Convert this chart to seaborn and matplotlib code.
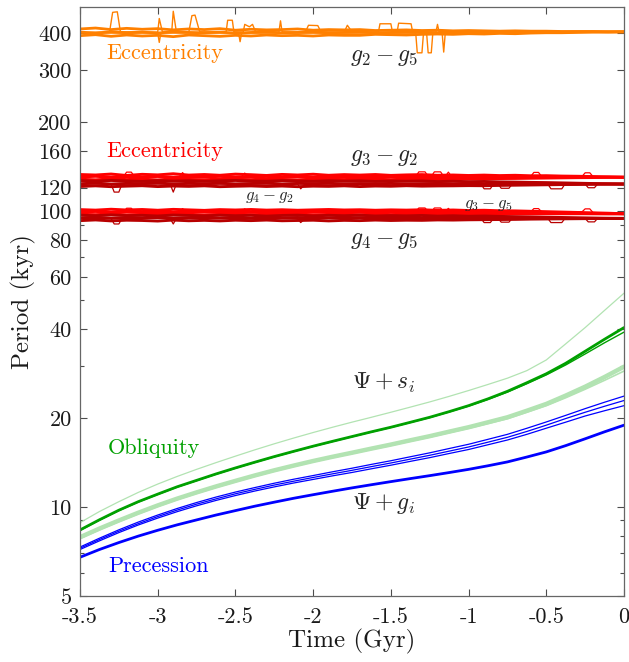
import matplotlib
matplotlib.use("Agg")
import matplotlib.pyplot as plt
import numpy as np
import seaborn as sns
from matplotlib.ticker import FixedLocator, FixedFormatter, NullLocator

# ---------------- data ----------------
# eccentricity bands: several runs per frequency, sampled every 0.1 Gyr
T_BAND = np.linspace(-3.5, 0, 36)

G2_G5 = [
    [413, 416, 411, 415, 412, 414, 410, 413, 411, 414, 409, 412, 410, 411, 413, 409, 411, 410,
     411, 408, 409, 410, 408, 409, 407, 408, 407, 406, 407, 406, 406, 405, 405, 405, 404, 404],
    [403, 400, 404, 401, 403, 400, 404, 402, 401, 403, 400, 402, 403, 401, 402, 403, 401, 402,
     403, 401, 402, 403, 402, 401, 403, 402, 403, 402, 403, 403, 404, 403, 404, 404, 404, 404],
    [392, 395, 390, 394, 391, 393, 389, 394, 392, 390, 393, 391, 394, 392, 393, 391, 394, 393,
     393, 396, 395, 394, 396, 397, 396, 398, 397, 399, 398, 400, 401, 401, 402, 403, 403, 404],
]
G3_G2 = [
    [133.0, 132.5, 133.5, 132.0, 133.2, 132.6, 133.8, 132.4, 133.0, 132.2, 133.4, 132.8, 132.0, 133.1, 132.5, 133.3, 132.2, 132.9,
     132.4, 133.0, 132.1, 132.6, 132.9, 132.2, 132.5, 132.0, 132.4, 131.9, 132.2, 131.7, 131.8, 131.4, 131.2, 130.9, 130.6, 130.2],
    [130.5, 131.2, 130.2, 130.9, 130.4, 131.0, 130.1, 130.8, 130.5, 131.1, 130.3, 130.7, 131.0, 130.4, 130.9, 130.2, 130.8, 130.5,
     130.9, 130.3, 130.7, 130.4, 130.8, 130.6, 130.3, 130.7, 130.5, 130.6, 130.4, 130.5, 130.6, 130.4, 130.5, 130.3, 130.3, 130.2],
    [128.2, 127.6, 128.5, 127.9, 128.3, 127.5, 128.6, 128.0, 127.7, 128.4, 128.1, 127.8, 128.5, 128.0, 127.6, 128.3, 128.1, 127.9,
     128.4, 128.2, 127.8, 128.3, 128.5, 128.0, 128.6, 128.4, 128.7, 128.9, 129.0, 129.2, 129.4, 129.6, 129.8, 129.9, 130.1, 130.2],
]
G4_G2 = [
    [126.8, 126.2, 127.0, 126.5, 126.0, 126.9, 126.3, 126.7, 126.1, 126.6, 127.0, 126.4, 126.2, 126.8, 126.5, 126.1, 126.7, 126.3,
     126.6, 126.0, 126.4, 126.2, 126.5, 125.9, 126.2, 125.8, 126.0, 125.6, 125.4, 125.1, 124.9, 124.6, 124.3, 124.0, 123.8, 123.5],
    [123.8, 124.4, 123.5, 124.1, 123.9, 124.5, 123.6, 124.2, 123.8, 124.3, 123.7, 124.0, 124.4, 123.6, 124.1, 123.9, 124.2, 123.7,
     124.0, 123.8, 124.1, 123.6, 123.9, 124.0, 123.7, 123.9, 123.6, 123.8, 123.7, 123.6, 123.7, 123.5, 123.6, 123.5, 123.5, 123.5],
    [121.2, 121.8, 121.0, 121.5, 121.9, 121.1, 121.6, 121.3, 121.8, 121.0, 121.4, 121.7, 121.2, 121.6, 121.0, 121.5, 121.3, 121.8,
     121.1, 121.6, 121.4, 121.9, 121.5, 121.7, 121.8, 122.0, 121.9, 122.2, 122.4, 122.6, 122.8, 123.0, 123.1, 123.3, 123.4, 123.5],
]
G3_G5 = [
    [101.2, 100.8, 101.5, 100.9, 101.3, 100.7, 101.4, 101.0, 100.6, 101.2, 100.9, 101.3, 100.8, 101.1, 100.7, 101.0, 101.3, 100.9,
     101.1, 100.7, 101.0, 100.8, 101.1, 100.6, 100.9, 100.5, 100.7, 100.3, 100.2, 99.9, 99.6, 99.3, 99.0, 98.7, 98.4, 98.0],
    [99.3, 99.8, 99.1, 99.6, 99.2, 99.7, 99.0, 99.5, 99.4, 99.1, 99.6, 99.2, 99.5, 99.0, 99.4, 99.3, 99.6, 99.1,
     99.4, 99.2, 99.5, 99.1, 99.3, 99.0, 99.2, 98.9, 99.0, 98.8, 98.7, 98.6, 98.4, 98.3, 98.2, 98.1, 98.0, 98.0],
    [97.6, 97.3, 97.8, 97.2, 97.5, 97.9, 97.4, 97.6, 97.1, 97.5, 97.7, 97.3, 97.6, 97.4, 97.8, 97.2, 97.5, 97.6,
     97.3, 97.7, 97.4, 97.6, 97.5, 97.7, 97.6, 97.8, 97.7, 97.8, 97.9, 97.9, 98.0, 98.0, 98.0, 98.0, 98.0, 98.0],
]
G4_G5 = [
    [96.9, 96.5, 97.1, 96.6, 96.8, 96.3, 97.0, 96.7, 96.4, 96.9, 96.5, 96.8, 96.2, 96.7, 96.9, 96.4, 96.8, 96.5,
     96.9, 96.3, 96.6, 96.4, 96.7, 96.2, 96.5, 96.1, 96.3, 96.0, 95.8, 95.6, 95.4, 95.2, 95.0, 94.8, 94.6, 94.5],
    [94.8, 95.3, 94.6, 95.1, 94.9, 95.4, 94.7, 95.0, 95.2, 94.8, 95.1, 94.6, 95.0, 94.9, 95.2, 94.7, 95.0, 94.8,
     95.1, 94.9, 95.0, 94.7, 94.9, 95.0, 94.8, 94.9, 94.7, 94.8, 94.7, 94.6, 94.6, 94.5, 94.5, 94.5, 94.5, 94.5],
    [92.9, 93.4, 92.7, 93.2, 93.0, 92.6, 93.3, 92.8, 93.1, 92.7, 93.2, 92.9, 93.3, 92.8, 93.0, 93.2, 92.7, 93.1,
     92.9, 93.3, 93.0, 93.2, 93.1, 93.4, 93.3, 93.5, 93.6, 93.7, 93.8, 94.0, 94.1, 94.2, 94.3, 94.4, 94.5, 94.5],
]

# excursions (spikes) of individual runs
ORANGE_UP_T = [-3.50, -3.31, -3.29, -3.26, -3.24, -3.00, -2.99, -2.97, -2.91, -2.90, -2.88, -2.80, -2.78, -2.76,
               -2.73, -2.56, -2.55, -2.52, -2.51, -2.45, -2.44, -2.41, -2.39, -2.37, -2.22, -2.21, -2.20, -2.05,
               -2.03, -1.97, -1.95, -1.80, -1.78, -1.75, -1.58, -1.57, -1.50, -1.49, -1.46, -1.45, -1.37, -1.36,
               -1.21, -1.20, -1.19, -1.00, 0.00]
ORANGE_UP_V = [402, 403, 470, 472, 404, 403, 448, 404, 403, 474, 404, 403, 458, 460,
               404, 403, 442, 442, 404, 403, 428, 420, 428, 404, 403, 440, 404, 403,
               425, 424, 404, 403, 425, 404, 403, 430, 430, 404, 403, 432, 430, 404,
               403, 428, 404, 403, 404]
ORANGE_DN_T = [-3.50, -3.00, -2.99, -2.98, -2.48, -2.47, -2.46, -1.34, -1.33, -1.30, -1.29, -1.27, -1.26,
               -1.24, -1.23, -1.17, -1.16, -1.15, -1.00, 0.00]
ORANGE_DN_V = [400, 400, 372, 400, 400, 374, 400, 400, 343, 343, 400, 400, 343,
               343, 400, 400, 345, 400, 401, 404]

RED_UP_T = [-3.50, -3.22, -3.20, -3.17, -3.15, -2.86, -2.84, -2.82, -2.46, -2.44, -2.42, -1.34, -1.32, -1.28,
            -1.26, -1.24, -1.22, -1.18, -1.16, -1.15, -1.13, -1.11, -0.60, -0.58, -0.55, -0.53, -0.27, -0.25,
            -0.22, -0.20, 0.00]
G3_G2_UP = [131, 131, 135.5, 135.5, 131, 131, 135, 131, 131, 134.5, 131, 131, 135.8, 135.8,
            131, 131, 135.8, 135.8, 131, 131, 135.5, 131, 131, 135.2, 135.2, 131, 131, 134.8,
            134.8, 131, 130.2]
G3_G5_UP = [99.5, 99.5, 102.3, 102.3, 99.5, 99.5, 102, 99.5, 99.5, 101.8, 99.5, 99.5, 102.5, 102.5,
            99.5, 99.5, 102.5, 102.5, 99.5, 99.5, 102.2, 99.5, 99.5, 102, 102, 99.5, 99.5, 101.8,
            101.8, 99, 98.0]
RED_DN_T = [-3.50, -3.30, -3.28, -3.25, -3.23, -2.92, -2.90, -2.88, -2.10, -2.08, -2.05, -0.92, -0.90, -0.86,
            -0.84, -0.81, -0.79, -0.74, -0.72, -0.49, -0.47, -0.40, -0.38, -0.25, -0.23, -0.19, -0.17, 0.00]
G4_G2_DN = [123.5, 123.5, 116, 116, 123.5, 123.5, 116, 123.5, 123.5, 119, 123.5, 123.5, 119, 119,
            123.5, 123.5, 119.5, 119.5, 123.5, 123.5, 119, 119, 123.5, 123.5, 120, 120, 123.5, 123.5]
G4_G5_DN = [94.5, 94.5, 90.5, 90.5, 94.5, 94.5, 90.5, 94.5, 94.5, 91.5, 94.5, 94.5, 91.5, 91.5,
            94.5, 94.5, 91.8, 91.8, 94.5, 94.5, 91.5, 91.5, 94.5, 94.5, 92, 92, 94.5, 94.5]

# precession / obliquity periods, sampled every 0.125 Gyr
T_CURVE = np.linspace(-3.5, 0, 29)
OBL_THIN = [8.85, 9.65, 10.42, 11.2, 11.95, 12.68, 13.4, 14.12, 14.85, 15.6, 16.35, 17.1, 17.85, 18.6, 19.35,
            20.1, 20.9, 21.75, 22.65, 23.65, 24.75, 25.95, 27.25, 28.9, 31.4, 35.6, 40.4, 46.2, 52.8]
OBL_DARK = [
    [8.36, 9.05, 9.75, 10.42, 11.05, 11.7, 12.3, 12.93, 13.55, 14.17, 14.8, 15.42, 16.05, 16.67, 17.3,
     17.95, 18.6, 19.33, 20.1, 21.0, 22.0, 23.2, 24.6, 26.3, 28.2, 30.6, 33.6, 36.9, 40.4],
    [8.33, 9.02, 9.72, 10.39, 11.02, 11.67, 12.27, 12.9, 13.52, 14.14, 14.77, 15.39, 16.02, 16.64, 17.27,
     17.92, 18.57, 19.3, 20.05, 20.95, 21.93, 23.1, 24.45, 26.1, 27.95, 30.2, 32.9, 35.9, 39.0],
]
OBL_LIGHT = [
    [7.9, 8.45, 9.0, 9.56, 10.12, 10.67, 11.2, 11.73, 12.25, 12.78, 13.3, 13.8, 14.3, 14.78, 15.25,
     15.75, 16.25, 16.8, 17.35, 17.97, 18.6, 19.33, 20.1, 21.15, 22.3, 23.8, 25.5, 27.5, 29.8],
    [7.82, 8.37, 8.92, 9.48, 10.04, 10.59, 11.12, 11.65, 12.17, 12.7, 13.22, 13.72, 14.22, 14.7, 15.17,
     15.66, 16.15, 16.69, 17.23, 17.83, 18.45, 19.15, 19.88, 20.9, 22.0, 23.4, 25.0, 26.8, 28.8],
]
PREC_TOP = [
    [7.32, 7.84, 8.37, 8.89, 9.39, 9.88, 10.35, 10.8, 11.23, 11.63, 12.03, 12.41, 12.77, 13.15, 13.52,
     13.93, 14.33, 14.78, 15.24, 15.76, 16.29, 16.93, 17.6, 18.45, 19.38, 20.4, 21.5, 22.6, 23.7],
    [7.25, 7.76, 8.28, 8.78, 9.28, 9.76, 10.22, 10.65, 11.08, 11.47, 11.86, 12.22, 12.58, 12.94, 13.3,
     13.69, 14.08, 14.51, 14.95, 15.44, 15.95, 16.56, 17.2, 18.0, 18.9, 19.9, 20.9, 21.9, 22.9],
    [7.18, 7.68, 8.19, 8.69, 9.17, 9.64, 10.09, 10.52, 10.93, 11.32, 11.69, 12.05, 12.39, 12.74, 13.08,
     13.46, 13.84, 14.26, 14.68, 15.16, 15.64, 16.23, 16.84, 17.6, 18.46, 19.35, 20.3, 21.15, 22.0],
]
PREC_LOW = [6.76, 7.18, 7.58, 7.97, 8.34, 8.7, 9.04, 9.39, 9.72, 10.06, 10.38, 10.7, 11.0, 11.3, 11.6,
            11.89, 12.18, 12.47, 12.76, 13.07, 13.4, 13.78, 14.2, 14.75, 15.35, 16.12, 17.0, 17.95, 18.9]

Y_TICKS = [5, 10, 20, 40, 60, 80, 100, 120, 160, 200, 300, 400]
Y_MINOR = [6, 7, 8, 9, 30, 50, 70, 90]
X_TICKS = [-3.5, -3, -2.5, -2, -1.5, -1, -0.5, 0]
X_LABELS = ["-3.5", "-3", "-2.5", "-2", "-1.5", "-1", "-0.5", "0"]

ORANGE = "#FF8000"
RED = "#FF0000"
DARK_RED = "#B80000"
GREEN = "#00A000"
LIGHT_GREEN = "#B2E3B2"
BLUE = "#0000FF"


def line(ax, x, y, color, lw):
    sns.lineplot(x=x, y=y, ax=ax, color=color, linewidth=lw, estimator=None, sort=False)


def main():
    sns.set_theme(style="ticks")
    plt.rcParams["font.family"] = ["cmr10", "DejaVu Serif"]
    plt.rcParams["mathtext.fontset"] = "cm"
    plt.rcParams["axes.formatter.use_mathtext"] = True
    plt.rcParams["axes.unicode_minus"] = False

    fig = plt.figure(figsize=(6.29, 6.62), dpi=100)
    ax = fig.add_axes([80 / 629, 66 / 662, 544 / 629, 589 / 662])
    ax.set_yscale("log")

    # eccentricity bands
    for vals in G2_G5:
        line(ax, T_BAND, vals, ORANGE, 2.0)
    line(ax, ORANGE_UP_T, ORANGE_UP_V, ORANGE, 1.0)
    line(ax, ORANGE_DN_T, ORANGE_DN_V, ORANGE, 1.0)

    for vals in G3_G2:
        line(ax, T_BAND, vals, RED, 2.1)
    line(ax, RED_UP_T, G3_G2_UP, RED, 0.9)
    for vals in G4_G2:
        line(ax, T_BAND, vals, DARK_RED, 2.1)
    line(ax, RED_DN_T, G4_G2_DN, DARK_RED, 0.9)

    for vals in G3_G5:
        line(ax, T_BAND, vals, RED, 2.1)
    line(ax, RED_UP_T, G3_G5_UP, RED, 0.9)
    for vals in G4_G5:
        line(ax, T_BAND, vals, DARK_RED, 2.1)
    line(ax, RED_DN_T, G4_G5_DN, DARK_RED, 0.9)

    # obliquity
    line(ax, T_CURVE, OBL_THIN, LIGHT_GREEN, 0.9)
    line(ax, T_CURVE, OBL_LIGHT[0], LIGHT_GREEN, 3.2)
    line(ax, T_CURVE, OBL_LIGHT[1], LIGHT_GREEN, 1.2)
    line(ax, T_CURVE, OBL_DARK[0], GREEN, 2.0)
    line(ax, T_CURVE, OBL_DARK[1], GREEN, 1.0)

    # precession
    for vals in PREC_TOP:
        line(ax, T_CURVE, vals, BLUE, 0.9)
    line(ax, T_CURVE, PREC_LOW, BLUE, 2.0)

    # labels
    fs_word = 16
    fs_math = 17
    ax.text(-3.33, 343, "Eccentricity", color=ORANGE, fontsize=fs_word, ha="left", va="center")
    ax.text(-3.33, 160, "Eccentricity", color=RED, fontsize=fs_word, ha="left", va="center")
    ax.text(-3.32, 15.8, "Obliquity", color=GREEN, fontsize=fs_word, ha="left", va="center")
    ax.text(-3.32, 6.32, "Precession", color=BLUE, fontsize=fs_word, ha="left", va="center")
    ax.text(-1.54, 333, r"$g_2 - g_5$", fontsize=fs_math, ha="center", va="center")
    ax.text(-1.54, 152.6, r"$g_3 - g_2$", fontsize=fs_math, ha="center", va="center")
    ax.text(-1.54, 80, r"$g_4 - g_5$", fontsize=fs_math, ha="center", va="center")
    ax.text(-2.28, 111, r"$g_4 - g_2$", fontsize=12, ha="center", va="center")
    ax.text(-0.875, 105, r"$g_3 - g_5$", fontsize=12, ha="center", va="center")
    ax.text(-1.55, 26.2, r"$\Psi + s_i$", fontsize=fs_math, ha="center", va="center")
    ax.text(-1.55, 10.3, r"$\Psi + g_i$", fontsize=fs_math, ha="center", va="center")

    # axes
    ax.set_xlim(-3.5, 0)
    ax.set_ylim(5, 490)
    ax.yaxis.set_major_locator(FixedLocator(Y_TICKS))
    ax.yaxis.set_major_formatter(FixedFormatter([str(v) for v in Y_TICKS]))
    ax.yaxis.set_minor_locator(FixedLocator(Y_MINOR))
    ax.yaxis.set_minor_formatter(FixedFormatter([""] * len(Y_MINOR)))
    ax.xaxis.set_major_locator(FixedLocator(X_TICKS))
    ax.xaxis.set_major_formatter(FixedFormatter(X_LABELS))
    ax.xaxis.set_minor_locator(NullLocator())
    ax.tick_params(which="both", direction="in", top=True, right=True, color="0.3",
                   labelsize=16, labelcolor="0.1", width=0.8)
    ax.tick_params(which="major", length=5)
    ax.tick_params(which="minor", length=3)
    ax.tick_params(axis="x", pad=8)
    ax.tick_params(axis="y", pad=6)
    for sp in ax.spines.values():
        sp.set_color("0.4")
        sp.set_linewidth(0.9)
    ax.set_xlabel("Time (Gyr)", fontsize=18, color="0.1", labelpad=2)
    ax.set_ylabel("Period (kyr)", fontsize=18, color="0.1", labelpad=2)

    fig.savefig("out.png", dpi=100)
    plt.close(fig)


if __name__ == "__main__":
    main()
